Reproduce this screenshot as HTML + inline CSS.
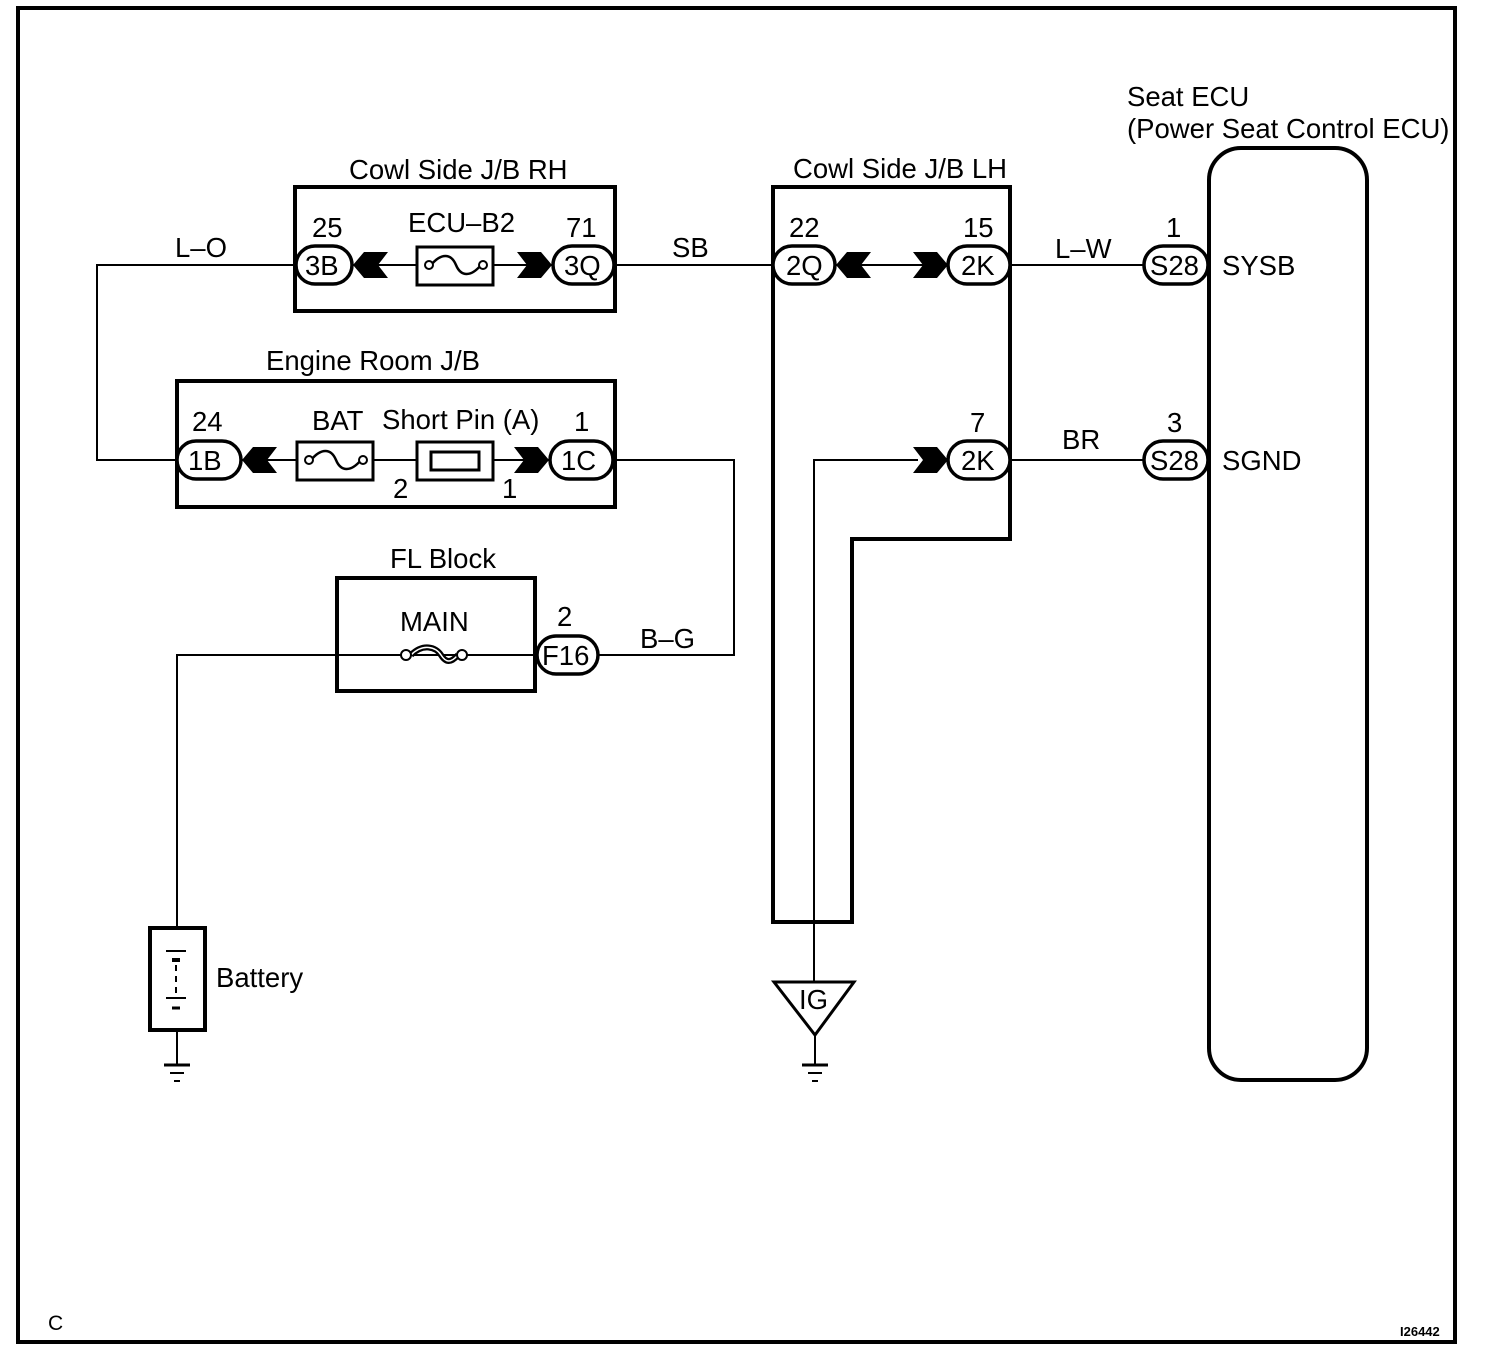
<!DOCTYPE html>
<html><head><meta charset="utf-8"><style>
html,body{margin:0;padding:0;background:#fff;}
svg{display:block;}
text{font-family:"Liberation Sans",sans-serif;font-size:27.5px;fill:#000;}
</style></head><body>
<svg width="1504" height="1362" viewBox="0 0 1504 1362" xmlns="http://www.w3.org/2000/svg">
<defs>
<polygon id="cl" points="0,0 11,-13 35,-13 25,0 35,13 11,13"/>
<polygon id="cr" points="0,0 -11,-13 -35,-13 -25,0 -35,13 -11,13"/>
</defs>
<g fill="none" stroke="#000">
<rect x="18" y="8" width="1437" height="1334" stroke-width="4"/>
<g stroke-width="2">
<polyline points="297,265 97,265 97,460 178,460"/>
<line x1="613" y1="265" x2="775" y2="265"/>
<line x1="350" y1="265" x2="417" y2="265"/>
<line x1="493" y1="265" x2="555" y2="265"/>
<line x1="240" y1="460" x2="297" y2="460"/>
<line x1="373" y1="460" x2="417" y2="460"/>
<line x1="493" y1="460" x2="550" y2="460"/>
<polyline points="612,460 734,460 734,655 598,655"/>
<polyline points="538,655 177,655 177,928"/>
<line x1="177" y1="1030" x2="177" y2="1065"/>
<line x1="835" y1="265" x2="950" y2="265"/>
<line x1="1010" y1="265" x2="1146" y2="265"/>
<line x1="1010" y1="460" x2="1146" y2="460"/>
<polyline points="918,460 814,460 814,982"/>
<line x1="815" y1="1035" x2="815" y2="1065"/>
</g>
<g stroke-width="4">
<rect x="295" y="187" width="320" height="124"/>
<rect x="177" y="381" width="438" height="126"/>
<rect x="337" y="578" width="198" height="113"/>
<polygon points="773,187 1010,187 1010,539 852,539 852,922 773,922"/>
<rect x="1209" y="148" width="158" height="932" rx="32"/>
<rect x="150" y="928" width="55" height="102"/>
</g>
<g stroke-width="3">
<rect x="417" y="247" width="76" height="38"/>
<rect x="297" y="442" width="76" height="38"/>
<rect x="417" y="442" width="76" height="38"/>
<rect x="431" y="452" width="48" height="18"/>
</g>
<polygon points="774,982 854,982 815,1035" stroke-width="3" fill="#fff"/>
<g stroke-width="2">
<path d="M431,265 c10,-12 20,-12 25,0 c5,12 15,12 25,0" stroke-width="2.5"/>
<circle cx="429" cy="265" r="4" fill="#fff"/><circle cx="483" cy="265" r="4" fill="#fff"/>
<path d="M311,460 c10,-12 20,-12 25,0 c5,12 15,12 25,0" stroke-width="2.5"/>
<circle cx="309" cy="460" r="4" fill="#fff"/><circle cx="363" cy="460" r="4" fill="#fff"/>
<path d="M411,655 c12,-12 25,-8 30,0 c5,8 10,8 17,0" stroke-width="6"/>
<path d="M411,655 c12,-12 25,-8 30,0 c5,8 10,8 17,0" stroke="#fff" stroke-width="1.5"/>
<circle cx="406" cy="655" r="5" fill="#fff"/><circle cx="462" cy="655" r="5" fill="#fff"/>
</g>
<g stroke-width="3.5" fill="#fff">
<rect x="296" y="246" width="56" height="38" rx="19"/>
<rect x="553" y="246" width="61" height="38" rx="19"/>
<rect x="177" y="441" width="64" height="38" rx="19"/>
<rect x="550" y="441" width="63" height="38" rx="19"/>
<rect x="537" y="636" width="61" height="38" rx="19"/>
<rect x="773" y="246" width="62" height="38" rx="19"/>
<rect x="948" y="246" width="62" height="38" rx="19"/>
<rect x="948" y="441" width="62" height="38" rx="19"/>
<rect x="1144" y="246" width="64" height="38" rx="19"/>
<rect x="1144" y="441" width="64" height="38" rx="19"/>
</g>
<g stroke-width="2">
<line x1="166" y1="951" x2="186" y2="951"/><line x1="172" y1="960" x2="180" y2="960" stroke-width="4"/>
<line x1="176" y1="965" x2="176" y2="995" stroke-dasharray="6,5"/>
<line x1="166" y1="998" x2="186" y2="998"/><line x1="172" y1="1008" x2="180" y2="1008" stroke-width="3"/>
<line x1="164" y1="1065" x2="190" y2="1065" stroke-width="3"/><line x1="170" y1="1073" x2="184" y2="1073"/><line x1="174" y1="1081" x2="180" y2="1081"/>
<line x1="802" y1="1065" x2="828" y2="1065" stroke-width="3"/><line x1="808" y1="1073" x2="822" y2="1073"/><line x1="812" y1="1081" x2="818" y2="1081"/>
</g>
</g>
<g fill="#000">
<use href="#cl" x="353" y="265"/>
<use href="#cr" x="552" y="265"/>
<use href="#cl" x="242" y="460"/>
<use href="#cr" x="549" y="460"/>
<use href="#cl" x="836" y="265"/>
<use href="#cr" x="948" y="265"/>
<use href="#cr" x="948" y="460"/>
</g>
<text x="349" y="179">Cowl Side J/B RH</text>
<text x="793" y="178">Cowl Side J/B LH</text>
<text x="266" y="370">Engine Room J/B</text>
<text x="390" y="568">FL Block</text>
<text x="1127" y="106">Seat ECU</text>
<text x="1127" y="138">(Power Seat Control ECU)</text>
<text x="175" y="257">L–O</text>
<text x="672" y="257">SB</text>
<text x="1055" y="258">L–W</text>
<text x="1062" y="449">BR</text>
<text x="640" y="648">B–G</text>
<text x="312" y="237">25</text>
<text x="408" y="232">ECU–B2</text>
<text x="566" y="237">71</text>
<text x="192" y="431">24</text>
<text x="312" y="430">BAT</text>
<text x="382" y="429">Short Pin (A)</text>
<text x="574" y="431">1</text>
<text x="393" y="498">2</text>
<text x="502" y="498">1</text>
<text x="400" y="631">MAIN</text>
<text x="557" y="626">2</text>
<text x="789" y="237">22</text>
<text x="963" y="237">15</text>
<text x="970" y="432">7</text>
<text x="1166" y="237">1</text>
<text x="1167" y="432">3</text>
<text x="305" y="275">3B</text>
<text x="564" y="275">3Q</text>
<text x="188" y="470">1B</text>
<text x="561" y="470">1C</text>
<text x="542" y="665">F16</text>
<text x="786" y="275">2Q</text>
<text x="961" y="275">2K</text>
<text x="961" y="470">2K</text>
<text x="1150" y="275">S28</text>
<text x="1150" y="470">S28</text>
<text x="1222" y="275">SYSB</text>
<text x="1222" y="470">SGND</text>
<text x="216" y="987">Battery</text>
<text x="799" y="1009">IG</text>
<text x="48" y="1330" style="font-size:21px">C</text>
<text x="1400" y="1336" style="font-size:13px;font-weight:bold">I26442</text>
</svg>
</body></html>
